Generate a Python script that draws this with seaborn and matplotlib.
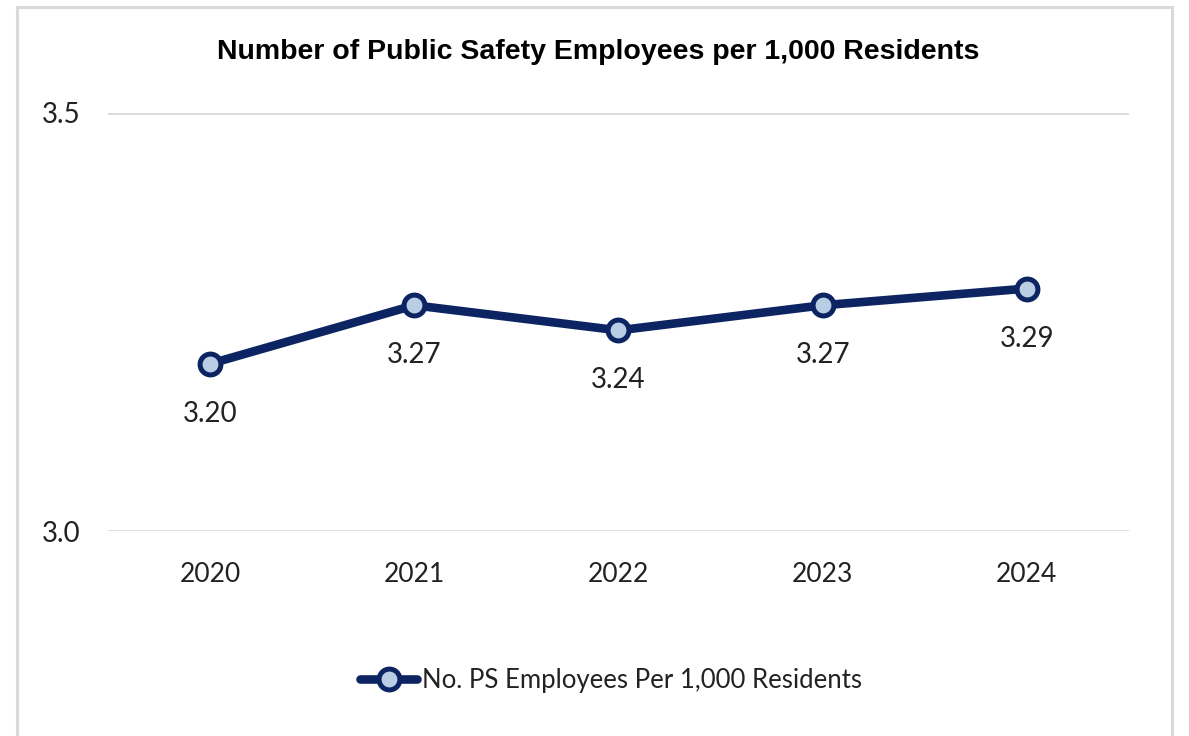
import matplotlib
matplotlib.use("Agg")
import matplotlib.pyplot as plt
from matplotlib.patches import Rectangle
from matplotlib.lines import Line2D
import seaborn as sns
import pandas as pd

years = ["2020", "2021", "2022", "2023", "2024"]
employees_per_1000 = [3.20, 3.27, 3.24, 3.27, 3.29]
y_ticks = [3.0, 3.5]
title = "Number of Public Safety Employees per 1,000 Residents"
series_name = "No. PS Employees Per 1,000 Residents"

navy = "#0c2461"
marker_fill = "#b9cde5"
grid_color = "#d9d9d9"

sns.set_theme(style="white")
plt.rcParams["font.family"] = ["Lato", "DejaVu Sans"]

df = pd.DataFrame({"year": years, "value": employees_per_1000})

fig = plt.figure(figsize=(11.89, 7.36), dpi=100)
ax = fig.add_axes([0.0908, 0.2785, 0.8587, 0.568])

sns.lineplot(data=df, x="year", y="value", ax=ax, color=navy, linewidth=6.2,
             marker="o", markersize=15, markerfacecolor=marker_fill,
             markeredgecolor=navy, markeredgewidth=3.6, sort=False, zorder=3)

ax.set_xlim(-0.5, len(years) - 0.5)
ax.set_ylim(3.0, 3.5)
ax.set_yticks(y_ticks)
ax.set_yticklabels([f"{t:.1f}" for t in y_ticks])
ax.set_xlabel("")
ax.set_ylabel("")
for s in ax.spines.values():
    s.set_visible(False)
ax.yaxis.grid(True, color=grid_color, linewidth=2)
ax.set_axisbelow(True)
ax.tick_params(axis="both", length=0, labelsize=19, colors="#222222")
ax.tick_params(axis="y", labelsize=20, pad=20)
ax.tick_params(axis="x", pad=22)

for i, v in enumerate(employees_per_1000):
    ax.annotate(f"{v:.2f}", (i, v), xytext=(0, -36), textcoords="offset points",
                ha="center", va="center", fontsize=20, color="#222222")

fig.text(0.503, 0.929, title, ha="center", va="center", fontsize=20.5,
         fontweight="bold",
         family=["Liberation Sans Narrow", "Liberation Sans", "DejaVu Sans"],
         color="#000000")

handle = Line2D([], [], color=navy, linewidth=6.2, marker="o", markersize=15,
                markerfacecolor=marker_fill, markeredgecolor=navy,
                markeredgewidth=3.6)
fig.legend([handle], [series_name], loc="center", bbox_to_anchor=(0.514, 0.075),
           frameon=False, fontsize=18.5, handlelength=2.2, handletextpad=0.2,
           labelcolor="#222222")

# outer chart frame
fig.patches.append(Rectangle((17 / 1189, -0.05), (1172 - 17) / 1189, 1.05 - 7 / 736,
                             transform=fig.transFigure, fill=False,
                             edgecolor=grid_color, linewidth=2.2))

fig.savefig("out.png", dpi=100, facecolor="white")
